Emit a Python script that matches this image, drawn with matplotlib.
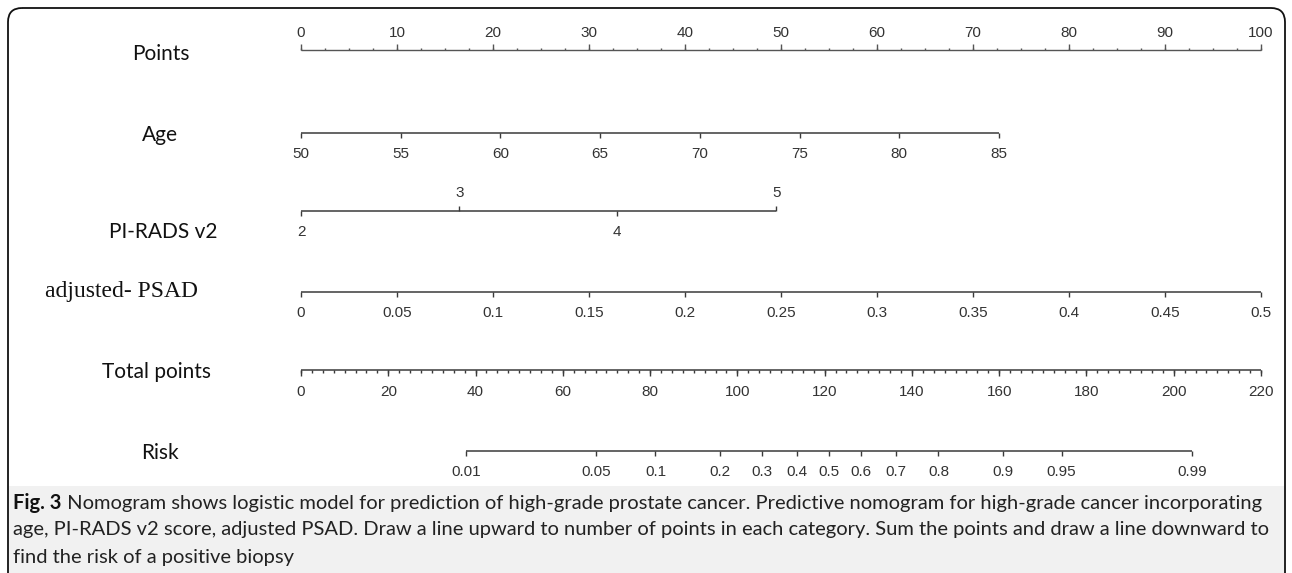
import matplotlib.pyplot as plt
import numpy as np
from matplotlib.patches import FancyBboxPatch, Rectangle

W, H = 1292, 573

# nomogram scales (positions in points 0-100)
points_major = [0, 10, 20, 30, 40, 50, 60, 70, 80, 90, 100]
points_minor_step = 2.5

age_values = [50, 55, 60, 65, 70, 75, 80, 85]
age_max_points = 72.7          # points given to age 85

pirads_labels = ['2', '3', '4', '5']
pirads_points = [0, 16.5, 32.9, 49.5]
pirads_above = [False, True, False, True]

psad_values = [0, 0.05, 0.1, 0.15, 0.2, 0.25, 0.3, 0.35, 0.4, 0.45, 0.5]

total_major = [0, 20, 40, 60, 80, 100, 120, 140, 160, 180, 200, 220]
total_minor_step = 2.5
total_max = 220

risk_values = [0.01, 0.05, 0.1, 0.2, 0.3, 0.4, 0.5, 0.6, 0.7, 0.8, 0.9, 0.95, 0.99]
risk_mid_total = 121.0         # total points where risk = 0.5
risk_slope = 18.1              # total points per unit logit

names = ['Points', 'Age', 'PI-RADS v2', 'adjusted- PSAD', 'Total points', 'Risk']

caption_bold = 'Fig. 3'
caption_lines = [
    ' Nomogram shows logistic model for prediction of high-grade prostate cancer. Predictive nomogram for high-grade cancer incorporating',
    'age, PI-RADS v2 score, adjusted PSAD. Draw a line upward to number of points in each category. Sum the points and draw a line downward to',
    'find the risk of a positive biopsy',
]

# layout (pixels)
row_y = [50, 133, 211, 292, 370, 451]
name_xy = [(161, 54), (160, 135), (163, 232), (122, 292), (156, 372), (160, 453)]
x0_px, x1_px = 301, 1261

line_col = '#3a3a3a'
text_col = '#333333'
tick_fs = 11

fig = plt.figure(figsize=(W / 100, H / 100), dpi=100)

# background frame + caption box
bg = fig.add_axes([0, 0, 1, 1])
bg.set_xlim(0, W)
bg.set_ylim(H, 0)
bg.axis('off')
bg.add_patch(Rectangle((9, 486), 1275, 100, facecolor='#f1f1f1', edgecolor='none'))
bg.add_patch(FancyBboxPatch((8, 8), 1277, 600, boxstyle='round,pad=0,rounding_size=14',
                            facecolor='none', edgecolor='#111111', lw=1.3, clip_on=True))

# nomogram axes: x in points (0-100), y in pixels
ax = fig.add_axes([x0_px / W, 0, (x1_px - x0_px) / W, 1])
ax.set_xlim(0, 100)
ax.set_ylim(H, 0)
ax.axis('off')


def hline(xa, xb, y, lw=1.1, color=line_col):
    ax.plot([xa, xb], [y, y], color=color, lw=lw, solid_capstyle='butt', clip_on=False)


def ticks(xs, y, length, lw=1.0, color=line_col):
    ax.vlines(xs, y, y + length, color=color, lw=lw, clip_on=False)


def labels(xs, texts, y):
    for x, t in zip(xs, texts):
        ax.text(x, y, t, ha='center', va='center', fontsize=tick_fs, color=text_col,
                family='Liberation Sans', clip_on=False)


# Points
y = row_y[0]
hline(0, 100, y, lw=1.0, color='#555555')
ticks(np.arange(0, 100.01, points_minor_step), y, -2.5, color='#555555')
ticks(points_major, y, -6, color='#555555')
labels(points_major, [str(v) for v in points_major], y - 17)

# Age
y = row_y[1]
age_pts = [(a - age_values[0]) / (age_values[-1] - age_values[0]) * age_max_points for a in age_values]
hline(0, age_max_points, y)
ticks(age_pts, y, 5)
labels(age_pts, [str(a) for a in age_values], y + 21)

# PI-RADS v2
y = row_y[2]
hline(0, max(pirads_points), y)
for p, lab, up in zip(pirads_points, pirads_labels, pirads_above):
    if up:
        ticks([p], y, -5)
        labels([p], [lab], y - 18)
    else:
        ticks([p], y, 5)
        labels([p], [lab], y + 21)

# adjusted PSAD
y = row_y[3]
psad_pts = [v / psad_values[-1] * 100 for v in psad_values]
hline(0, 100, y)
ticks(psad_pts, y, 5)
labels(psad_pts, [f'{v:g}' for v in psad_values], y + 21)

# Total points
y = row_y[4]
to_pts = 100 / total_max
hline(0, 100, y)
ticks(np.arange(0, total_max + 0.01, total_minor_step) * to_pts, y, 3)
ticks(np.array(total_major) * to_pts, y, 6)
labels(np.array(total_major) * to_pts, [str(v) for v in total_major], y + 22)

# Risk
y = row_y[5]
r = np.array(risk_values)
risk_total = risk_mid_total + risk_slope * np.log(r / (1 - r))
risk_pts = risk_total * to_pts
hline(risk_pts[0], risk_pts[-1], y)
ticks(risk_pts, y, 5)
labels(risk_pts, [f'{v:g}' for v in risk_values], y + 21)

# variable names
for name, (nx, ny) in zip(names, name_xy):
    if name.startswith('adjusted'):
        fig.text(nx / W, 1 - ny / H, name, ha='center', va='center', fontsize=17,
                 family='Liberation Serif', color='#111111')
    else:
        fig.text(nx / W, 1 - ny / H, name, ha='center', va='center', fontsize=15,
                 family='Lato', color='#111111')

# caption, sized so the second line spans the box
cap_y = [503, 530, 557]
cap_left, cap_right = 13, 1270
cap_font = 'Lato'
fig.canvas.draw()
rend = fig.canvas.get_renderer()
probe = fig.text(0, 0, caption_lines[1], fontsize=13, family=cap_font)
cap_fs = 13 * (cap_right - cap_left) / probe.get_window_extent(rend).width
probe.remove()

t = fig.text(cap_left / W, 1 - cap_y[0] / H, caption_bold, ha='left', va='center',
             fontsize=cap_fs, family=cap_font, weight='bold', color='#111111')
bb = t.get_window_extent(rend)
fig.text(bb.x1 / W, 1 - cap_y[0] / H, caption_lines[0], ha='left', va='center',
         fontsize=cap_fs, family=cap_font, color='#222222')
for line, cy in zip(caption_lines[1:], cap_y[1:]):
    fig.text(cap_left / W, 1 - cy / H, line, ha='left', va='center',
             fontsize=cap_fs, family=cap_font, color='#222222')

fig.savefig('out.png', dpi=100)
